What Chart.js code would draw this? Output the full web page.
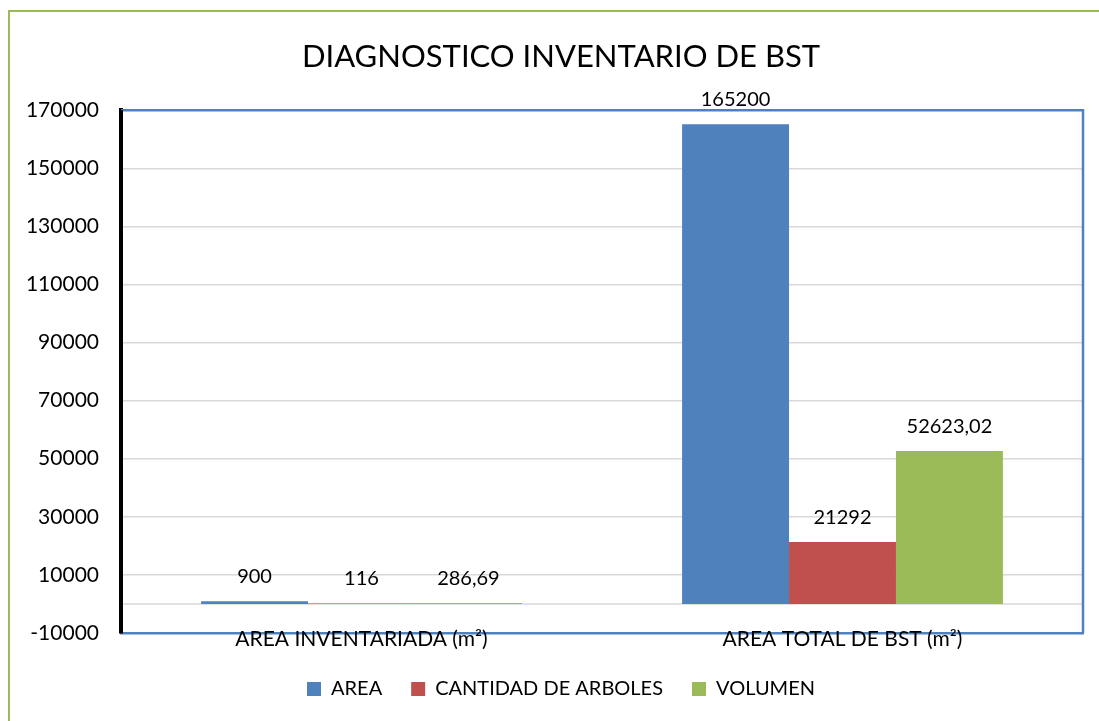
<!DOCTYPE html>
<html>
<head>
<meta charset="utf-8">
<script src="https://cdn.jsdelivr.net/npm/chart.js@4/dist/chart.umd.min.js"></script>
<style>
    html, body { margin: 0; padding: 0; background: #fff; }
    .wrap { position: relative; width: 1099px; height: 721px; overflow: hidden; }
    .frame { position: absolute; left: 8px; top: 10px; right: -10px; bottom: -10px;
             border-left: 2px solid #9bbb59; border-top: 2px solid #9bbb59; }
    canvas { position: absolute; left: 0; top: 0; }
</style>
</head>
<body>
<div class="wrap">
    <div class="frame"></div>
    <canvas id="myChart" width="1099" height="721"></canvas>
</div>
<script>
const categories = ["AREA INVENTARIADA (m²)", "AREA TOTAL DE BST (m²)"];
const seriesNames = ["AREA", "CANTIDAD DE ARBOLES", "VOLUMEN"];
const areaValues = [900, 165200];
const arbolesValues = [116, 21292];
const volumenValues = [286.69, 52623.02];
const yMin = -10000;
const yMax = 170000;
const yStep = 20000;

const colors = ['#4f81bd', '#c0504d', '#9bbb59'];
const fontName = 'Lato, "Liberation Sans", sans-serif';

// labels above each bar, comma as decimal mark
const barLabels = {
    id: 'barLabels',
    afterDatasetsDraw(chart) {
        const ctx = chart.ctx;
        ctx.save();
        ctx.font = '20px ' + fontName;
        ctx.fillStyle = '#000';
        ctx.textAlign = 'center';
        ctx.textBaseline = 'middle';
        chart.data.datasets.forEach((ds, i) => {
            const meta = chart.getDatasetMeta(i);
            meta.data.forEach((bar, j) => {
                const txt = String(ds.data[j]).replace('.', ',');
                ctx.fillText(txt, bar.x, bar.y - 25);
            });
        });
        ctx.restore();
    }
};

// zero line + top/right border of the plot area
const plotFrame = {
    id: 'plotFrame',
    beforeDatasetsDraw(chart) {
        const {ctx, chartArea, scales} = chart;
        const y0 = scales.y.getPixelForValue(0);
        ctx.save();
        ctx.strokeStyle = '#d9d9d9';
        ctx.lineWidth = 1.5;
        ctx.beginPath();
        ctx.moveTo(chartArea.left, y0);
        ctx.lineTo(chartArea.right, y0);
        ctx.stroke();
        ctx.restore();
    },
    afterDraw(chart) {
        const {ctx, chartArea} = chart;
        ctx.save();
        ctx.strokeStyle = '#4f81bd';
        ctx.lineWidth = 2.5;
        ctx.beginPath();
        ctx.moveTo(chartArea.left, chartArea.top);
        ctx.lineTo(chartArea.right, chartArea.top);
        ctx.lineTo(chartArea.right, chartArea.bottom);
        ctx.stroke();
        ctx.fillStyle = '#000';
        ctx.fillRect(chartArea.left - 2, chartArea.top, 4, chartArea.bottom - chartArea.top);
        ctx.restore();
    }
};

// tick labels may spill out of the axis box (like the original), so no clipping
const noLabelClip = (scale) => { scale._computeLabelArea = () => undefined; };

const ctx = document.getElementById('myChart').getContext('2d');
const chart = new Chart(ctx, {
    type: 'bar',
    data: {
        labels: categories,
        datasets: [{
            label: seriesNames[0],
            backgroundColor: colors[0],
            data: areaValues,
        }, {
            label: seriesNames[1],
            backgroundColor: colors[1],
            data: arbolesValues,
        }, {
            label: seriesNames[2],
            backgroundColor: colors[2],
            data: volumenValues,
        }]
    },
    options: {
        responsive: false,
        animation: false,
        categoryPercentage: 0.667,
        barPercentage: 1,
        layout: {
            padding: { left: 39, right: 16, top: 10, bottom: 12 }
        },
        plugins: {
            title: {
                display: true,
                text: 'DIAGNOSTICO INVENTARIO DE BST',
                color: '#000',
                font: { family: fontName, size: 31, weight: 'normal', lineHeight: 1.2 },
                padding: { top: 28, bottom: 35 }
            },
            legend: {
                position: 'bottom',
                labels: {
                    color: '#000',
                    boxWidth: 14,
                    boxHeight: 14,
                    padding: 29,
                    font: { family: fontName, size: 20 }
                }
            },
            tooltip: { enabled: false }
        },
        scales: {
            x: {
                grid: { display: false, drawTicks: false },
                border: { color: '#4f81bd', width: 2.5 },
                ticks: {
                    color: '#000',
                    padding: -6,
                    font: { family: fontName, size: 21 }
                },
                afterFit(scale) {
                    scale.height = 17;
                    noLabelClip(scale);
                }
            },
            y: {
                min: yMin,
                max: yMax,
                ticks: {
                    stepSize: yStep,
                    color: '#000',
                    padding: 22,
                    font: { family: fontName, size: 21 },
                    callback: (value) => String(value)
                },
                grid: { color: '#d9d9d9', lineWidth: 1.5, drawTicks: false },
                border: { color: '#000', width: 4 },
                afterFit(scale) {
                    scale.width = 82;
                    noLabelClip(scale);
                }
            }
        }
    },
    plugins: [plotFrame, barLabels]
});
</script>
</body>
</html>
